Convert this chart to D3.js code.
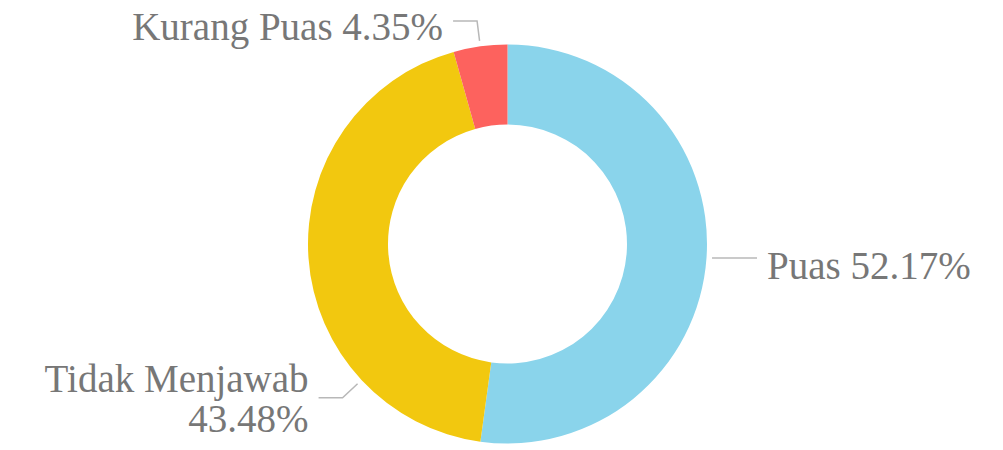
<!DOCTYPE html>
<html>
<head>
<meta charset="utf-8">
<script src="https://cdn.jsdelivr.net/npm/d3@7"></script>
<style>
  html, body { margin: 0; padding: 0; background: #fff; }
  svg { display: block; }
</style>
</head>
<body>
<svg id="chart" width="1003" height="450"></svg>
<script>
const categories = ["Puas", "Tidak Menjawab", "Kurang Puas"];
const values = [52.17, 43.48, 4.35];
const colors = ["#8AD4EB", "#F2C80F", "#FD625E"];

const W = 1003, H = 450;
const cx = 507.5, cy = 244, outerR = 199.5, innerR = 119.5;
const svg = d3.select("#chart");
const g = svg.append("g").attr("transform", `translate(${cx},${cy})`);

const pie = d3.pie().sort(null).value(d => d.value);
const arcs = pie(categories.map((c, i) => ({ cat: c, value: values[i], color: colors[i] })));
const arc = d3.arc().innerRadius(innerR).outerRadius(outerR);

g.selectAll("path.slice").data(arcs).enter().append("path")
  .attr("class", "slice")
  .attr("d", arc)
  .attr("fill", d => d.data.color);

// label layout (leader lines): angle override, elbow and text placement
const layout = {
  "Puas": { angle: null, elbow: [0, 0], len: 45, dir: 1, lines: [0], dyBase: 21 },
  "Tidak Menjawab": { angle: 227 * Math.PI / 180, elbow: [-15, 14], len: 24, dir: -1, lines: [-6, 34], dyBase: 0, split: true },
  "Kurang Puas": { angle: null, elbow: [-2.5, -20], len: 24, dir: -1, lines: [0], dyBase: 19 }
};
const fmt = v => v.toFixed(2) + "%";
const labelR = 205;

arcs.forEach(d => {
  const L = layout[d.data.cat];
  const a = L.angle != null ? L.angle : (d.startAngle + d.endAngle) / 2;
  const p0 = [labelR * Math.sin(a), -labelR * Math.cos(a)];
  const p1 = [p0[0] + L.elbow[0], p0[1] + L.elbow[1]];
  const p2 = [p1[0] + L.dir * L.len, p1[1]];
  g.append("path")
    .attr("d", d3.line()([p0, p1, p2]))
    .attr("fill", "none")
    .attr("stroke", "#b8b8b8")
    .attr("stroke-width", 1.5);
  const tx = p2[0] + L.dir * 10;
  const t = g.append("text")
    .attr("x", tx)
    .attr("text-anchor", L.dir > 0 ? "start" : "end")
    .attr("font-family", "'Liberation Serif', 'DejaVu Serif', serif")
    .attr("font-size", 39)
    .attr("fill", "#777777");
  if (L.split) {
    t.append("tspan").attr("x", tx).attr("y", p2[1] + L.lines[0]).text(d.data.cat);
    t.append("tspan").attr("x", tx).attr("y", p2[1] + L.lines[1]).text(fmt(d.data.value));
  } else {
    t.attr("y", p2[1] + L.dyBase).text(d.data.cat + " " + fmt(d.data.value));
  }
});
</script>
</body>
</html>
